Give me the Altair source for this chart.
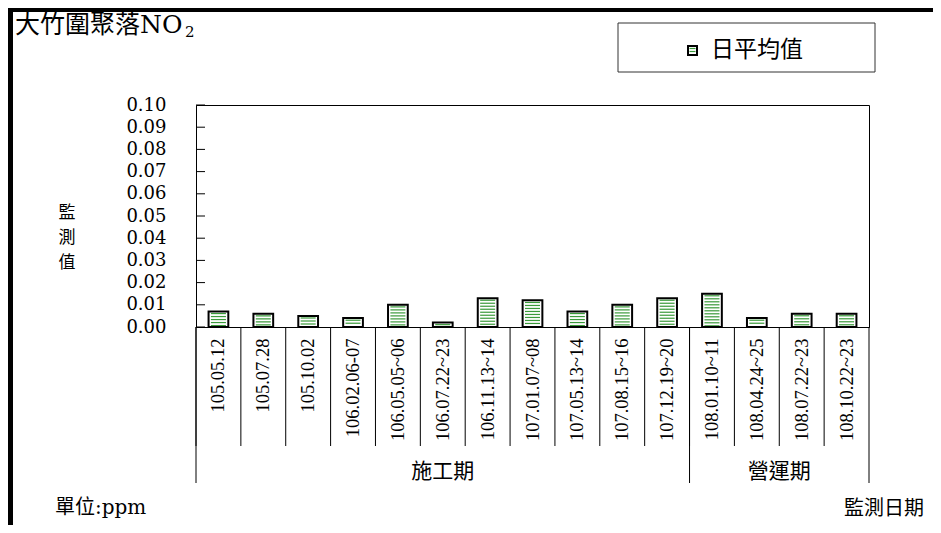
import altair as alt
import pandas as pd

# ---------------- data ----------------
categories = ["105.05.12", "105.07.28", "105.10.02", "106.02.06-07", "106.05.05~06",
              "106.07.22~23", "106.11.13~14", "107.01.07~08", "107.05.13~14",
              "107.08.15~16", "107.12.19~20", "108.01.10~11", "108.04.24~25",
              "108.07.22~23", "108.10.22~23"]
values = [0.007, 0.006, 0.005, 0.004, 0.010, 0.002, 0.013, 0.012, 0.007,
          0.010, 0.013, 0.015, 0.004, 0.006, 0.006]
phases = ["施工期"] * 11 + ["營運期"] * 4
y_ticks = [0.00, 0.01, 0.02, 0.03, 0.04, 0.05, 0.06, 0.07, 0.08, 0.09, 0.10]
title_text = "大竹圍聚落NO"
title_sub = "2"
legend_label = "日平均值"
y_title = ["監", "測", "值"]
unit_text = "單位:ppm"
x_title = "監測日期"

# ---------------- layout ----------------
W, H = 673, 222
GREEN = "#3a9a3a"
CJK = "Noto Sans CJK TC"
SERIF_W = "DejaVu Serif, Noto Sans CJK TC"

df = pd.DataFrame({"cat": categories, "v": values, "phase": phases})

# stripes (pattern fill) derived from bar values, spacing ~3px
period = 0.1 / H * 3.0
rows = []
for c, v in zip(categories, values):
    k = 0
    while True:
        yy = v - (k + 0.7) * period
        if yy <= period * 0.3:
            break
        rows.append({"cat": c, "y": yy})
        k += 1
stripes = pd.DataFrame(rows)

xscale = alt.Scale(domain=categories, paddingInner=0, paddingOuter=0)
xaxis = alt.Axis(title=None, labelAngle=270, labelAlign="right", labelBaseline="middle",
                 labelFont="Liberation Serif", labelFontSize=18.5, labelColor="black",
                 labelPadding=11, ticks=False, domainColor="black", labelLimit=300)
yscale = alt.Scale(domain=[0, 0.1], nice=False, zero=True)
yaxis = alt.Axis(title=None, values=y_ticks, format=".2f", ticks=False, grid=False,
                 labelFont="DejaVu Serif", labelFontSize=18, labelColor="black",
                 labelPadding=30, domainColor="black")


def xenc(field, band=0.5):
    return alt.X(f"{field}:N", scale=xscale, axis=xaxis, bandPosition=band, sort=categories)


def yenc(field):
    return alt.Y(f"{field}:Q", scale=yscale, axis=yaxis)


base = alt.Chart(df)

bar_fill = base.mark_bar(width=alt.RelativeBandSize(0.44), fill="white", strokeWidth=0).encode(
    x=xenc("cat"), y=yenc("v"))
stripe_layer = alt.Chart(stripes).mark_tick(orient="horizontal", size=15, thickness=1.2,
                                            color=GREEN, opacity=1).encode(
    x=xenc("cat"), y=yenc("y"))
bar_outline = base.mark_bar(width=alt.RelativeBandSize(0.44), fillOpacity=0,
                            stroke="black", strokeWidth=2).encode(
    x=xenc("cat"), y=yenc("v"))

# category separators below the axis
seps = base.mark_rule(color="black", strokeWidth=1).encode(
    x=xenc("cat", 0), y=alt.value(H), y2=alt.value(H + 119))

# group boundaries
groups = []
for p in dict.fromkeys(phases):
    idx = [i for i, q in enumerate(phases) if q == p]
    groups.append((p, idx[0], idx[-1] + 1))
gstart = pd.DataFrame({"cat": [categories[s] for _, s, _ in groups]})
gend = pd.DataFrame({"cat": [categories[groups[-1][2] - 1]]})
grule1 = alt.Chart(gstart).mark_rule(color="black", strokeWidth=1).encode(
    x=xenc("cat", 0), y=alt.value(H), y2=alt.value(H + 156))
grule2 = alt.Chart(gend).mark_rule(color="black", strokeWidth=1).encode(
    x=xenc("cat", 1), y=alt.value(H), y2=alt.value(H + 156))

glabels = []
for p, s, e in groups:
    mid = (s + e) / 2.0
    i = int(mid)
    frac = mid - i
    glabels.append(alt.Chart(pd.DataFrame({"cat": [categories[i]], "t": [p]})).mark_text(
        font=CJK, fontSize=21, color="black", baseline="middle", align="center").encode(
        x=xenc("cat", frac), y=alt.value(H + 145), text="t:N"))

# inward y ticks
ytick_layer = alt.Chart(pd.DataFrame({"v": y_ticks})).mark_rule(color="black", strokeWidth=1).encode(
    x=alt.value(0), x2=alt.value(9), y=yenc("v"))

one = pd.DataFrame({"d": [0]})

# frame lines
frame_top = alt.Chart(one).mark_rule(color="black", strokeWidth=4).encode(
    x=alt.value(-188), x2=alt.value(737), y=alt.value(-95))
frame_left = alt.Chart(one).mark_rule(color="black", strokeWidth=5).encode(
    x=alt.value(-185.5), y=alt.value(-97), y2=alt.value(420))

# title
title1 = alt.Chart(pd.DataFrame({"t": [title_text]})).mark_text(
    font=SERIF_W, fontSize=25, color="black", align="left", baseline="middle").encode(
    x=alt.value(-181), y=alt.value(-80), text="t:N")
title2 = alt.Chart(pd.DataFrame({"t": [title_sub]})).mark_text(
    font="DejaVu Serif", fontSize=15, color="black", align="left", baseline="middle").encode(
    x=alt.value(-11), y=alt.value(-73), text="t:N")

# legend
leg_box = alt.Chart(one).mark_rect(fill="white", stroke="#333333", strokeWidth=1).encode(
    x=alt.value(422), x2=alt.value(679), y=alt.value(-82), y2=alt.value(-33))
leg_sym = alt.Chart(one).mark_rect(fill="white", stroke="black", strokeWidth=2).encode(
    x=alt.value(492), x2=alt.value(501), y=alt.value(-59), y2=alt.value(-50))
leg_str = alt.Chart(pd.DataFrame({"yy": [-56.5, -53.5]})).mark_rule(color=GREEN, strokeWidth=1.2).encode(
    x=alt.value(493.5), x2=alt.value(499.5), y=alt.Y("yy:Q", scale=None))
leg_txt = alt.Chart(pd.DataFrame({"t": [legend_label]})).mark_text(
    font=CJK, fontSize=23, color="black", align="left", baseline="middle").encode(
    x=alt.value(515), y=alt.value(-55), text="t:N")

# y title: one character per line
ytitle_layers = []
for j, ch in enumerate(y_title):
    ytitle_layers.append(alt.Chart(pd.DataFrame({"t": [ch]})).mark_text(
        font=CJK, fontSize=17, color="black", align="center", baseline="middle").encode(
        x=alt.value(-129), y=alt.value(108 + 25 * j), text="t:N"))

unit = alt.Chart(pd.DataFrame({"t": [unit_text]})).mark_text(
    font=SERIF_W, fontSize=20, color="black", align="left", baseline="middle").encode(
    x=alt.value(-141), y=alt.value(403), text="t:N")
xtitle = alt.Chart(pd.DataFrame({"t": [x_title]})).mark_text(
    font=CJK, fontSize=20, color="black", align="right", baseline="middle").encode(
    x=alt.value(728), y=alt.value(404), text="t:N")

chart = alt.layer(
    bar_fill, stripe_layer, bar_outline, seps, grule1, grule2, *glabels, ytick_layer,
    frame_top, frame_left, title1, title2, leg_box, leg_sym, leg_str, leg_txt,
    *ytitle_layers, unit, xtitle
).properties(
    width=W, height=H,
    autosize=alt.AutoSizeParams(type="none"),
    padding={"left": 188, "top": 97, "right": 64, "bottom": 198},
    background="white",
).configure_view(stroke="black", strokeWidth=1)

chart.save("out.html", embed_options={"renderer": "svg", "actions": False})
